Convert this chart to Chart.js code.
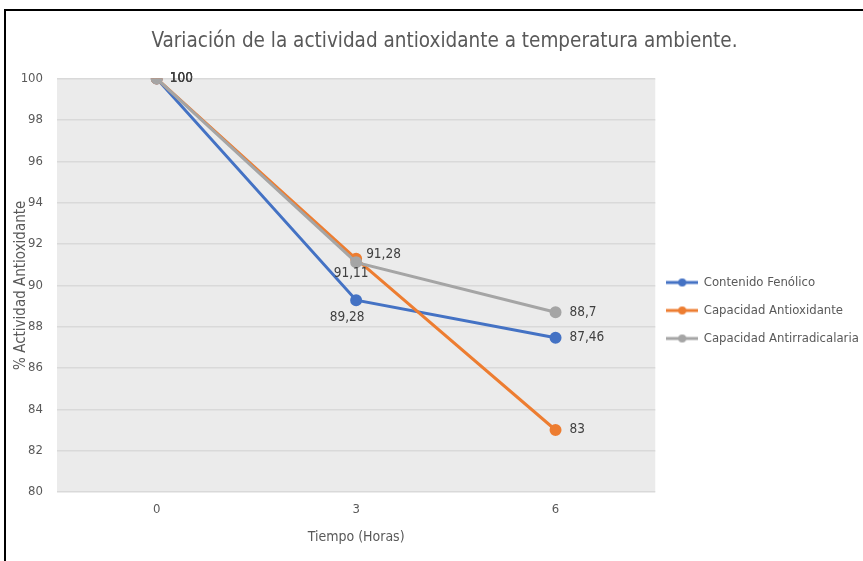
<!DOCTYPE html>
<html>
<head>
<meta charset="utf-8">
<script src="https://cdn.jsdelivr.net/npm/chart.js@4.4.1/dist/chart.umd.min.js"></script>
<style>
  html, body { margin: 0; padding: 0; background: #fff; overflow: hidden; }
  #frame { position: absolute; left: 4px; top: 9px; width: 870px; height: 560px; border-top: 2px solid #000; border-left: 2px solid #000; }
  #wrap { position: absolute; left: 0; top: 0; width: 863px; height: 561px; }
</style>
</head>
<body>
<div id="frame"></div>
<div id="wrap"><canvas id="chart"></canvas></div>
<script>
const tiempos = ['0', '3', '6'];
const contenidoFenolico = [100, 89.28, 87.46];
const capacidadAntioxidante = [100, 91.28, 83];
const capacidadAntirradicalaria = [100, 91.11, 88.7];
const seriesNames = ['Contenido Fenólico', 'Capacidad Antioxidante', 'Capacidad Antirradicalaria'];
const yMin = 80, yMax = 100, yStep = 2;

const colors = ['#4472C4', '#ED7D31', '#A5A5A5'];
const FONT = '"Liberation Sans Narrow", "DejaVu Sans Condensed", sans-serif';
const TEXT = '#595959';

Chart.defaults.font.family = FONT;
Chart.defaults.color = TEXT;

// little line + dot icon for the legend
function legendIcon(color) {
  const c = document.createElement('canvas');
  c.width = 32; c.height = 10;
  const g = c.getContext('2d');
  g.strokeStyle = color; g.lineWidth = 3;
  g.beginPath(); g.moveTo(0, 5); g.lineTo(32, 5); g.stroke();
  g.fillStyle = color;
  g.beginPath(); g.arc(16, 5, 4, 0, Math.PI * 2); g.fill();
  return c;
}
const icons = colors.map(legendIcon);

// where each value label sits relative to its point (Excel auto placement)
const labelPos = [
  [{dx: 13, dy: 0}, {dx: -9, dy: 17, c: true}, {dx: 14, dy: 0}],
  [{dx: 13, dy: 0}, {dx: 10, dy: -4}, {dx: 14, dy: 0}],
  [{dx: 13, dy: 0}, {dx: -5, dy: 11, c: true}, {dx: 14, dy: 0}]
];

const plotBg = {
  id: 'plotBg',
  beforeDraw(chart) {
    const {ctx, chartArea: a} = chart;
    ctx.save();
    ctx.fillStyle = '#ebebeb';
    ctx.fillRect(a.left, a.top, a.right - a.left, a.bottom - a.top);
    ctx.restore();
  }
};

// nudge title and legend to where Excel put them
const nudge = {
  id: 'nudge',
  afterLayout(chart) {
    const t = chart.titleBlock;
    t.left += 5; t.right += 5;
    const l = chart.legend;
    l.left -= 3; l.right -= 3;
    l.top += 35; l.bottom += 35;
  }
};

const valueLabels = {
  id: 'valueLabels',
  afterDatasetsDraw(chart) {
    const ctx = chart.ctx;
    ctx.save();
    ctx.font = '13.5px ' + FONT;
    ctx.fillStyle = '#404040';
    ctx.textBaseline = 'middle';
    chart.data.datasets.forEach((ds, i) => {
      chart.getDatasetMeta(i).data.forEach((pt, j) => {
        const p = labelPos[i][j];
        ctx.textAlign = p.c ? 'center' : 'left';
        ctx.fillText(String(ds.data[j]).replace('.', ','), pt.x + p.dx, pt.y + p.dy);
      });
    });
    ctx.restore();
  }
};

const series = [contenidoFenolico, capacidadAntioxidante, capacidadAntirradicalaria];

new Chart(document.getElementById('chart'), {
  type: 'line',
  data: {
    labels: tiempos,
    datasets: series.map((d, i) => ({
      label: seriesNames[i],
      data: d,
      borderColor: colors[i],
      backgroundColor: colors[i],
      borderWidth: 3,
      pointRadius: 4.5,
      pointHoverRadius: 4.5,
      tension: 0,
      order: 3 - i
    }))
  },
  options: {
    responsive: true,
    maintainAspectRatio: false,
    animation: false,
    layout: { padding: { left: 8, right: -8, top: 0, bottom: 10 } },
    plugins: {
      title: {
        display: true,
        text: 'Variación de la actividad antioxidante a temperatura ambiente.',
        font: { size: 20.5, weight: 'normal' },
        color: TEXT,
        padding: { top: 29, bottom: 25 }
      },
      legend: {
        position: 'right',
        labels: {
          usePointStyle: true,
          pointStyleWidth: 30,
          padding: 15,
          font: { size: 13 },
          color: TEXT,
          generateLabels(chart) {
            return chart.data.datasets.map((ds, i) => ({
              text: ds.label,
              pointStyle: icons[i],
              fillStyle: colors[i],
              strokeStyle: colors[i],
              lineWidth: 0,
              datasetIndex: i,
              fontColor: TEXT
            }));
          }
        }
      },
      tooltip: { enabled: false }
    },
    scales: {
      x: {
        offset: true,
        grid: { display: false, drawTicks: false },
        border: { display: false },
        ticks: { padding: 10, font: { size: 13 }, color: TEXT },
        title: { display: true, text: 'Tiempo (Horas)', font: { size: 14 }, color: TEXT, padding: { top: 0, bottom: 5 } },
        afterFit(scale) { scale.height = 59; }
      },
      y: {
        min: yMin,
        max: yMax,
        grid: { color: '#d9d9d9', lineWidth: 1.5, drawTicks: false },
        border: { display: false },
        ticks: { stepSize: yStep, padding: 14, font: { size: 13 }, color: TEXT },
        title: { display: true, text: '% Actividad Antioxidante', font: { size: 15 }, color: TEXT, padding: { top: 4, bottom: 0 } },
        afterFit(scale) { scale.width = 49; }
      }
    }
  },
  plugins: [plotBg, nudge, valueLabels]
});
</script>
</body>
</html>
